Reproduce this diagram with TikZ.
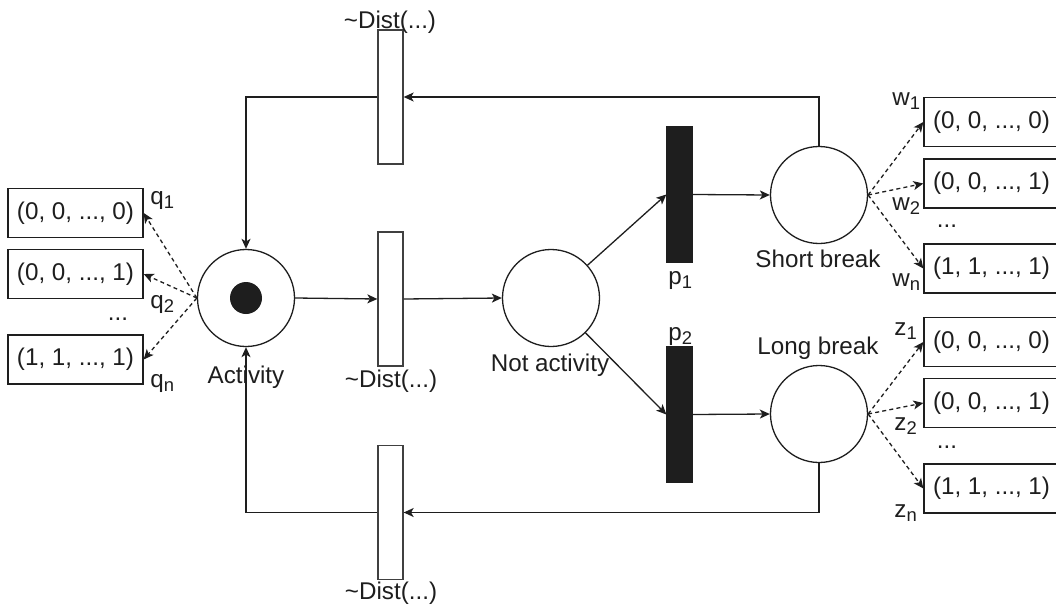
\documentclass[tikz,border=0pt]{standalone}
\usepackage{fontspec}
\setmainfont{Liberation Sans}
\usetikzlibrary{arrows.meta}
\definecolor{ink}{HTML}{1E1E1E}
\newcommand{\sbx}[1]{\raisebox{-2.4pt}{\fontsize{9.2}{10}\selectfont #1}}
\begin{document}
\begin{tikzpicture}[x=0.5pt,y=-0.5pt,
  every node/.style={font=\fontsize{12.1}{14}\selectfont, text=ink},
  place/.style={circle,draw=ink,line width=0.65pt,minimum size=48.5pt,inner sep=0pt},
  token/.style={circle,fill=ink,minimum size=16pt,inner sep=0pt},
  trans/.style={rectangle,draw=ink!85,line width=0.65pt,fill=white,minimum width=12.5pt,minimum height=67pt,inner sep=0pt},
  btrans/.style={rectangle,draw=ink,fill=ink,line width=0.65pt,minimum width=12.5pt,minimum height=67.5pt,inner sep=0pt},
  vbox/.style={rectangle,draw=ink,line width=0.65pt,minimum width=67.5pt,minimum height=24.5pt,inner sep=0pt},
  lbl/.style={inner sep=0pt,anchor=base},
  sub/.style={inner sep=0pt,anchor=base west},
  arr/.style={draw=ink,line width=0.65pt,-{Stealth[length=5pt,width=4.5pt,inset=1.3pt]}},
  darr/.style={arr,dash pattern=on 2pt off 1.6pt}]
\useasboundingbox (0,0) rectangle (1056,605);
\clip (0,0) rectangle (1056,605);

% places
\node[place] (act) at (246,298) {};
\node[token] (tok) at (246,298) {};
\node[place] (na) at (551,298) {};
\node[place] (sb) at (819,195) {};
\node[place] (lb) at (819,414) {};

% transitions
\node[trans] (t1) at (390.5,97) {};
\node[trans] (t2) at (390.5,299) {};
\node[trans] (t3) at (390.5,512.5) {};
\node[btrans] (p1) at (679.5,194.5) {};
\node[btrans] (p2) at (679.5,414.5) {};

% labels
\node[lbl] (lact) at (246,383) {Activity};
\node[lbl] (lna) at (550,371) {Not activity};
\node[lbl] (lsb) at (818,267) {Short break};
\node[lbl] (llb) at (818,354) {Long break};
\node[lbl] (d1) at (390,28) {\textasciitilde Dist(...)};
\node[lbl] (d2) at (391,387) {\textasciitilde Dist(...)};
\node[lbl] (d3) at (391,599) {\textasciitilde Dist(...)};
\node[sub] (lp1) at (668,284) {p\sbx{1}};
\node[sub] (lp2) at (668,340) {p\sbx{2}};

% left vectors
\node[vbox] (b1) at (75.5,213) {(0, 0, ..., 0)};
\node[vbox] (b2) at (75.5,274) {(0, 0, ..., 1)};
\node[vbox] (b3) at (75.5,359.5) {(1, 1, ..., 1)};
\node[sub] (q1) at (150,204) {q\sbx{1}};
\node[sub] (q2) at (150,308) {q\sbx{2}};
\node[lbl] (qd) at (118,320) {...};
\node[sub] (qn) at (150,387) {q\sbx{n}};

% right vectors (short break)
\node[vbox] (w1b) at (991.5,122) {(0, 0, ..., 0)};
\node[vbox] (w2b) at (991.5,183.5) {(0, 0, ..., 1)};
\node[vbox] (wnb) at (991.5,268.5) {(1, 1, ..., 1)};
\node[sub] (w1) at (892,105) {w\sbx{1}};
\node[sub] (w2) at (892,210) {w\sbx{2}};
\node[lbl] (wd) at (947,227) {...};
\node[sub] (wn) at (892,286) {w\sbx{n}};

% right vectors (long break)
\node[vbox] (z1b) at (991.5,342) {(0, 0, ..., 0)};
\node[vbox] (z2b) at (991.5,403) {(0, 0, ..., 1)};
\node[vbox] (znb) at (991.5,488.5) {(1, 1, ..., 1)};
\node[sub] (z1) at (894,335) {z\sbx{1}};
\node[sub] (z2) at (894,430) {z\sbx{2}};
\node[lbl] (zd) at (947,448) {...};
\node[sub] (zn) at (894,517) {z\sbx{n}};

% connectors
\draw[arr] (sb.north) |- (t1.east);
\draw[arr] (t1.west) -| (act.north);
\draw[arr] (act.east) -- (t2.west);
\draw[arr] (t2.east) -- (na.west);
\draw[arr] (na) -- (p1.west);
\draw[arr] (na) -- (p2.west);
\draw[arr] (p1.east) -- (sb.west);
\draw[arr] (p2.east) -- (lb.west);
\draw[arr] (lb.south) |- (t3.east);
\draw[arr] (t3.west) -| (act.south);

\draw[darr] (act.west) -- (b1.east);
\draw[darr] (act.west) -- (b2.east);
\draw[darr] (act.west) -- (b3.east);
\draw[darr] (sb.east) -- (w1b.west);
\draw[darr] (sb.east) -- (w2b.west);
\draw[darr] (sb.east) -- (wnb.west);
\draw[darr] (lb.east) -- (z1b.west);
\draw[darr] (lb.east) -- (z2b.west);
\draw[darr] (lb.east) -- (znb.west);
\end{tikzpicture}
\end{document}
